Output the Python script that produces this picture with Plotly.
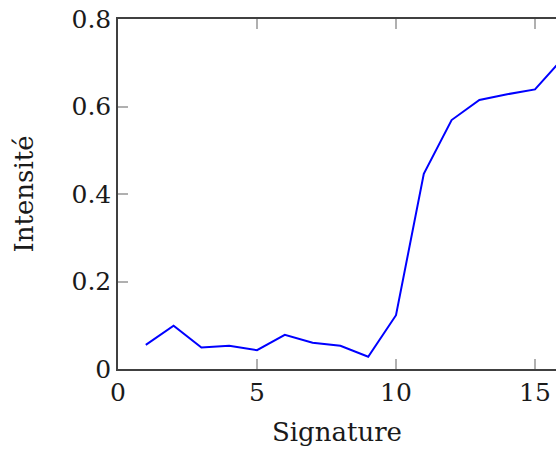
import plotly.graph_objects as go

signature = [1, 2, 3, 4, 5, 6, 7, 8, 9, 10, 11, 12, 13, 14, 15, 16]
intensite = [0.055, 0.099, 0.049, 0.053, 0.043, 0.078, 0.060, 0.053, 0.028,
             0.123, 0.446, 0.569, 0.615, 0.628, 0.639, 0.71]
x_ticks = [0, 5, 10, 15]
y_ticks = [0, 0.2, 0.4, 0.6, 0.8]
y_ticklabels = ["0", "0.2", "0.4", "0.6", "0.8"]

W, H = 556, 450
L, T, B = 118, 19, 81
px_per_unit = 27.8

fig = go.Figure()
fig.add_trace(go.Scatter(x=signature, y=intensite, mode="lines",
                         line=dict(color="#0000ff", width=2), cliponaxis=True,
                         showlegend=False))

fam = "DejaVu Serif"
tick_font = dict(family=fam, size=25, color="#1a1a1a")
title_font = dict(family=fam, size=26, color="#1a1a1a")
fig.update_layout(
    width=W, height=H,
    margin=dict(l=L, r=0, t=T, b=B, pad=0),
    plot_bgcolor="white", paper_bgcolor="white",
    font=tick_font,
    xaxis=dict(range=[0, (W - L) / px_per_unit], tickvals=x_ticks,
               showline=True, linecolor="#404040", linewidth=1.5, mirror="allticks",
               ticks="inside", ticklen=10, tickwidth=1.5, tickcolor="#b0b0b0",
               showgrid=False, zeroline=False,
               title=dict(text="Signature", standoff=17, font=title_font),
               tickfont=tick_font),
    yaxis=dict(range=[0, 0.8], tickvals=y_ticks, ticktext=y_ticklabels,
               showline=True, linecolor="#404040", linewidth=1.5, mirror=False,
               ticks="inside", ticklen=10, tickwidth=1.5, tickcolor="#b0b0b0",
               showgrid=False, zeroline=False,
               title=dict(text="Intensité", standoff=30, font=title_font),
               tickfont=tick_font),
)

fig.write_html("out.html", config={"displayModeBar": False},
               post_script="document.body.style.margin='0';document.body.style.overflow='hidden';")
